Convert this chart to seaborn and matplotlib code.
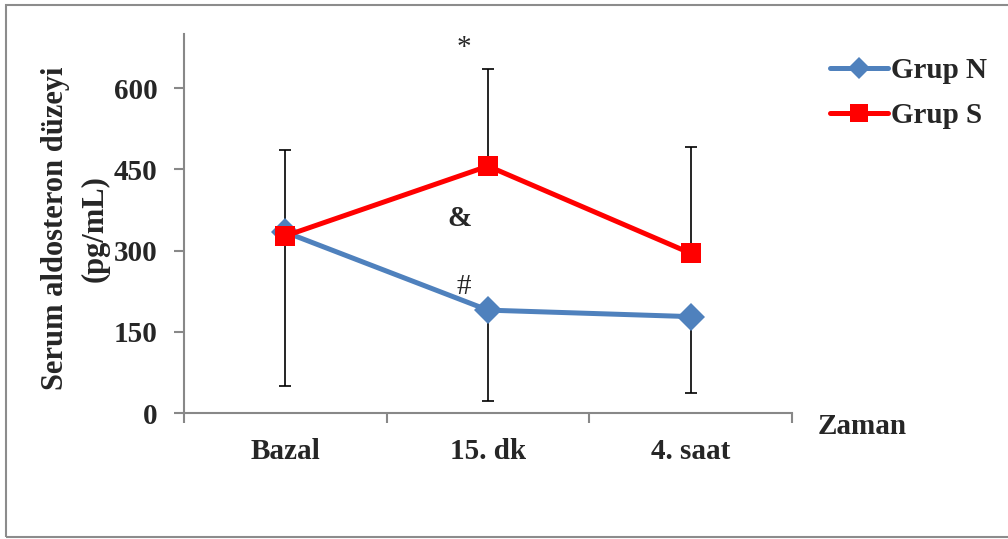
import matplotlib
matplotlib.use("Agg")
import matplotlib.pyplot as plt
import seaborn as sns
import pandas as pd
from matplotlib.patches import Rectangle
from matplotlib.lines import Line2D

categories = ["Bazal", "15. dk", "4. saat"]
grup_n = [334, 190, 178]
grup_n_err_low = [284, 168, 141]
grup_s = [327, 456, 295]
grup_s_err_high = [159, 179, 196]
yticks = [0, 150, 300, 450, 600]
series_names = ["Grup N", "Grup S"]

sns.set_theme(style="white")
plt.rcParams['font.family'] = ['Liberation Serif', 'DejaVu Serif']
plt.rcParams['font.weight'] = 'bold'

W, H = 1008, 539
FS = 21
fig = plt.figure(figsize=(W / 100, H / 100), dpi=100)
ax = fig.add_axes([184 / W, 1 - 413 / H, (792 - 184) / W, (413 - 34) / H])

df = pd.DataFrame({
    "Zaman": categories * 2,
    "Deger": grup_n + grup_s,
    "Grup": [series_names[0]] * 3 + [series_names[1]] * 3,
})

blue = "#4F81BD"
red = "#FF0000"

ax.errorbar(categories, grup_s, yerr=[[0, 0, 0], grup_s_err_high], fmt="none",
            ecolor="black", elinewidth=1.2, capsize=4.3, capthick=1.2, zorder=1)
ax.errorbar(categories, grup_n, yerr=[grup_n_err_low, [0, 0, 0]], fmt="none",
            ecolor="black", elinewidth=1.2, capsize=4.3, capthick=1.2, zorder=1)

sns.lineplot(data=df, x="Zaman", y="Deger", hue="Grup", style="Grup",
             palette={series_names[0]: blue, series_names[1]: red},
             markers={series_names[0]: "D", series_names[1]: "s"},
             dashes=False, sort=False, linewidth=3.6, markersize=14,
             markeredgewidth=0, legend=False, ax=ax, zorder=2)

ax.set_xlim(-0.5, 2.5)
ax.set_ylim(0, 700)
ax.set_yticks(yticks)
ax.set_yticklabels([str(v) for v in yticks])
ax.set_xticks(range(len(categories)))
ax.set_xticklabels(categories)
ax.set_xticks([-0.5, 0.5, 1.5, 2.5], minor=True)

for s in ["top", "right"]:
    ax.spines[s].set_visible(False)
for s in ["left", "bottom"]:
    ax.spines[s].set_color("#888888")
    ax.spines[s].set_linewidth(1.5)

ax.tick_params(axis="y", which="major", direction="out", length=7, width=1.5,
               color="#888888", left=True, pad=12, labelsize=FS)
ax.tick_params(axis="x", which="major", length=0, pad=18, labelsize=FS)
ax.tick_params(axis="x", which="minor", direction="out", length=7, width=1.5,
               color="#888888", bottom=True)
for lbl in ax.get_xticklabels() + ax.get_yticklabels():
    lbl.set_fontweight("bold")

ax.set_xlabel("")
ax.set_ylabel("")
fig.text(56 / W, 1 - 228 / H, "Serum aldosteron düzeyi", rotation=90,
         ha="center", va="center", fontsize=22, fontweight="bold")
fig.text(95 / W, 1 - 229 / H, "(pg/mL)", rotation=90,
         ha="center", va="center", fontsize=22, fontweight="bold")

ax.text(0.88, 675, "*", ha="center", va="center", fontsize=FS, fontweight="normal")
ax.text(0.86, 360, "&", ha="center", va="center", fontsize=FS, fontweight="bold")
ax.text(0.88, 232, "#", ha="center", va="center", fontsize=FS, fontweight="normal")

handles = [
    Line2D([], [], color=blue, linewidth=3.6, marker="D", markersize=11, markeredgewidth=0,
           solid_capstyle="round"),
    Line2D([], [], color=red, linewidth=3.6, marker="s", markersize=13, markeredgewidth=0,
           solid_capstyle="round"),
]
ax.legend(handles, series_names, loc="upper left", bbox_to_anchor=(830 / W, 1 - 57 / H),
          bbox_transform=fig.transFigure, frameon=False,
          prop={"weight": "bold", "size": FS}, handlelength=2.0, handletextpad=0.1,
          borderpad=0, borderaxespad=0, labelspacing=0.62)

fig.text(818 / W, 1 - 427 / H, "Zaman", ha="left", va="center", fontsize=FS,
         fontweight="bold")

fig.patches.append(Rectangle((6 / W, 2 / H), (1012 - 6) / W, (534 - 2) / H,
                             transform=fig.transFigure, fill=False,
                             edgecolor="#8C8C8C", linewidth=1.5))

fig.savefig("out.png", dpi=100)
